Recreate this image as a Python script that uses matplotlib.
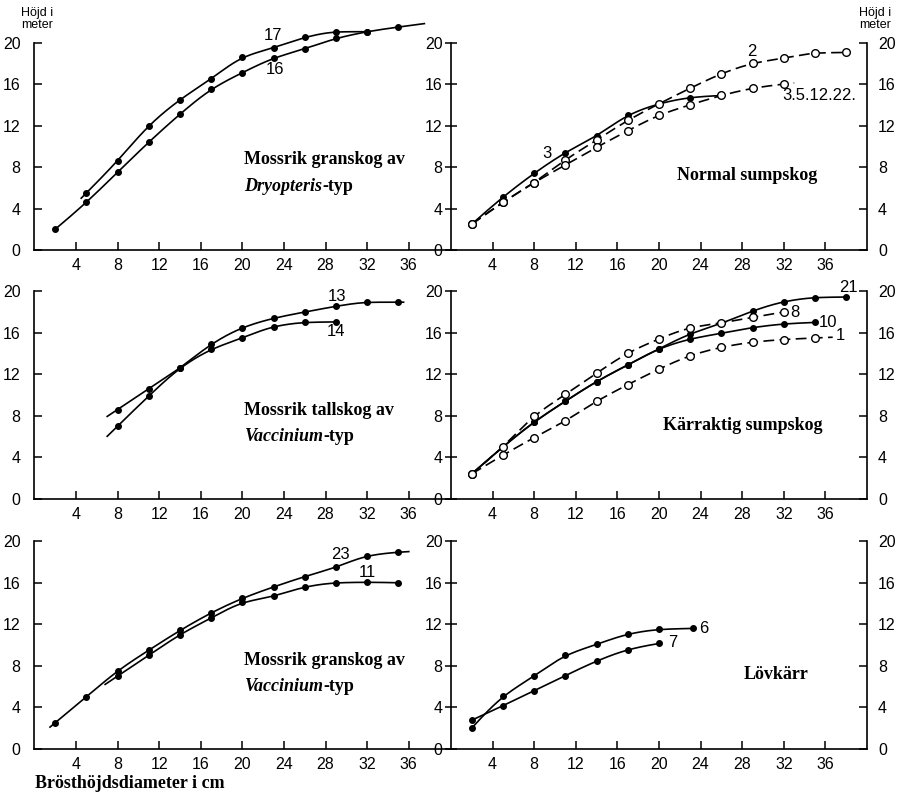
import numpy as np
import matplotlib
matplotlib.use("Agg")
import matplotlib.pyplot as plt
from matplotlib import transforms

# ---------------- data (diameter cm, height m) ----------------
x_ticks = [4, 8, 12, 16, 20, 24, 28, 32, 36]
y_ticks = [0, 4, 8, 12, 16, 20]

# Mossrik granskog av Dryopteris-typ
s17_x = [5, 8, 11, 14, 17, 20, 23, 26, 29, 32]
s17_y = [5.5, 8.6, 12.0, 14.5, 16.5, 18.6, 19.5, 20.5, 21.05, 21.05]
s17_span = (4.5, 32)
s16_x = [2, 5, 8, 11, 14, 17, 20, 23, 26, 29, 32, 35]
s16_y = [2.0, 4.6, 7.5, 10.4, 13.1, 15.5, 17.1, 18.5, 19.4, 20.4, 21.05, 21.5]
s16_span = (2, 37.5)

# Normal sumpskog
s3_x = [2, 5, 8, 11, 14, 17, 20, 23, 26]
s3_y = [2.5, 5.1, 7.4, 9.4, 11.0, 13.0, 14.1, 14.7, 14.9]
s3_span = (2, 26)
s2_x = [2, 5, 8, 11, 14, 17, 20, 23, 26, 29, 32, 35, 38]
s2_y = [2.5, 4.6, 6.5, 8.7, 10.6, 12.5, 14.1, 15.6, 17.0, 18.0, 18.5, 19.0, 19.05]
s2_span = (2, 38)
s35_x = [2, 5, 8, 11, 14, 17, 20, 23, 26, 29, 32]
s35_y = [2.5, 4.6, 6.5, 8.2, 9.9, 11.5, 13.0, 14.0, 14.9, 15.6, 16.0]
s35_span = (2, 33)

# Mossrik tallskog av Vaccinium-typ
s13_x = [8, 11, 14, 17, 20, 23, 26, 29, 32, 35]
s13_y = [8.6, 10.6, 12.6, 14.9, 16.5, 17.4, 18.0, 18.55, 18.95, 18.95]
s13_span = (7, 35.5)
s14_x = [8, 11, 14, 17, 20, 23, 26, 29]
s14_y = [7.0, 9.9, 12.6, 14.4, 15.5, 16.6, 17.0, 17.05]
s14_span = (7, 29)

# Kärraktig sumpskog
s21_x = [2, 5, 8, 11, 14, 17, 20, 23, 26, 29, 32, 35, 38]
s21_y = [2.4, 5.0, 7.4, 9.4, 11.3, 12.9, 14.45, 15.9, 16.9, 18.1, 19.0, 19.4, 19.45]
s21_span = (2, 38)
s10_x = [2, 5, 8, 11, 14, 17, 20, 23, 26, 29, 32, 35]
s10_y = [2.4, 5.0, 7.4, 9.4, 11.3, 12.9, 14.45, 15.4, 15.95, 16.5, 16.85, 17.0]
s10_span = (2, 35)
s8_x = [2, 5, 8, 11, 14, 17, 20, 23, 26, 29, 32]
s8_y = [2.4, 5.0, 8.0, 10.05, 12.1, 14.05, 15.4, 16.5, 16.95, 17.5, 18.0]
s8_span = (2, 32)
s1_x = [2, 5, 8, 11, 14, 17, 20, 23, 26, 29, 32, 35]
s1_y = [2.4, 4.2, 5.9, 7.5, 9.4, 11.0, 12.5, 13.8, 14.6, 15.1, 15.35, 15.5]
s1_span = (2, 36.7)

# Mossrik granskog av Vaccinium-typ
s23_x = [2, 5, 8, 11, 14, 17, 20, 23, 26, 29, 32, 35]
s23_y = [2.5, 5.0, 7.5, 9.5, 11.4, 13.1, 14.5, 15.6, 16.6, 17.5, 18.6, 18.95]
s23_span = (1.5, 36)
s11_x = [8, 11, 14, 17, 20, 23, 26, 29, 32, 35]
s11_y = [7.0, 9.0, 11.0, 12.6, 14.1, 14.7, 15.6, 16.0, 16.05, 16.0]
s11_span = (6.8, 35)

# Lövkärr
s6_x = [2, 5, 8, 11, 14, 17, 20, 23.3]
s6_y = [2.0, 5.05, 7.0, 9.0, 10.05, 11.05, 11.5, 11.6]
s6_span = (2, 23.3)
s7_x = [2, 5, 8, 11, 14, 17, 20]
s7_y = [2.75, 4.15, 5.6, 7.05, 8.45, 9.55, 10.15]
s7_span = (2, 20)

# ---------------- styling ----------------
SANS = "Liberation Sans"
SERIF = "Liberation Serif"
LW = 1.2
TICK_FS = 11.5

W, H = 900, 797
fig = plt.figure(figsize=(9, 7.97), dpi=100)

px = 10.4  # pixels per unit
YMAX = 22.5
row_base = [250, 498.7, 748.7]
left_x0, right_x0 = 34.4, 451


def make_axes(x0, base):
    ax = fig.add_axes([x0 / W, (H - base) / H, 40 * px / W, YMAX * 10.37 / H])
    ax.patch.set_visible(False)
    return ax


def style_common(ax):
    ax.set_xlim(0, 40)
    ax.set_ylim(0, YMAX)
    ax.set_xticks(x_ticks)
    ax.set_yticks(y_ticks)
    ax.spines["top"].set_visible(False)
    ax.spines["right"].set_visible(False)
    ax.spines["left"].set_bounds(0, 20)
    for s in ax.spines.values():
        s.set_linewidth(1.2)
    ax.tick_params(axis="x", direction="in", length=6, width=1.1, pad=6,
                   labelsize=TICK_FS)
    for lab in ax.get_xticklabels() + ax.get_yticklabels():
        lab.set_fontfamily(SANS)


def pchip(xs, ys, t):
    x = np.asarray(xs, float)
    y = np.asarray(ys, float)
    h = np.diff(x)
    d = np.diff(y) / h
    n = len(x)
    m = np.zeros(n)
    for k in range(1, n - 1):
        if d[k - 1] * d[k] <= 0:
            m[k] = 0.0
        else:
            w1 = 2 * h[k] + h[k - 1]
            w2 = h[k] + 2 * h[k - 1]
            m[k] = (w1 + w2) / (w1 / d[k - 1] + w2 / d[k])

    def endslope(h0, h1, d0, d1):
        s = ((2 * h0 + h1) * d0 - h0 * d1) / (h0 + h1)
        if np.sign(s) != np.sign(d0):
            s = 0.0
        return 0.5 * s + 0.5 * d0

    m[0] = endslope(h[0], h[1], d[0], d[1])
    m[-1] = endslope(h[-1], h[-2], d[-1], d[-2])
    out = np.empty_like(t)
    for i, tv in enumerate(t):
        if tv <= x[0]:
            out[i] = y[0] + m[0] * (tv - x[0])
        elif tv >= x[-1]:
            out[i] = y[-1] + m[-1] * (tv - x[-1])
        else:
            k = min(np.searchsorted(x, tv) - 1, n - 2)
            s = (tv - x[k]) / h[k]
            h00 = 2 * s**3 - 3 * s**2 + 1
            h10 = s**3 - 2 * s**2 + s
            h01 = -2 * s**3 + 3 * s**2
            h11 = s**3 - s**2
            out[i] = (h00 * y[k] + h10 * h[k] * m[k] + h01 * y[k + 1]
                      + h11 * h[k] * m[k + 1])
    return out


def smooth_curve(xs, ys, span, sigma=1.0):
    step = 0.05
    pad = 4 * sigma
    t = np.arange(span[0] - pad, span[1] + pad + step / 2, step)
    v = pchip(xs, ys, t)
    kx = np.arange(-pad, pad + step / 2, step)
    k = np.exp(-0.5 * (kx / sigma) ** 2)
    k /= k.sum()
    vs = np.convolve(v, k, mode="same")
    sel = (t >= span[0] - 1e-9) & (t <= span[1] + 1e-9)
    return t[sel], vs[sel]


def draw(ax, xs, ys, span, dashed=False, open_marker=False):
    t, v = smooth_curve(xs, ys, span)
    if dashed:
        ax.plot(t, v, color="black", lw=LW, dashes=(6.5, 3.2), zorder=2)
    else:
        ax.plot(t, v, color="black", lw=LW, zorder=2)
    if open_marker:
        ax.plot(xs, ys, "o", ms=5.5, mfc="white", mec="black", mew=1.0, zorder=4)
    else:
        ax.plot(xs, ys, "o", ms=4.0, color="black", zorder=3)


def lbl(ax, x, y, s, ha="center"):
    ax.text(x, y, s, fontsize=12, family=SANS, ha=ha, va="center")


renderer = fig.canvas.get_renderer()


def title(ax, x, y, parts):
    t = ax.transData
    for txt, it in parts:
        tx = ax.text(x, y, txt, fontsize=13, family=SERIF, fontweight="bold",
                     style="italic" if it else "normal", ha="left", va="center",
                     transform=t)
        ex = tx.get_window_extent(renderer)
        t = transforms.offset_copy(tx.get_transform(), fig=fig, x=ex.width,
                                   units="dots")


axes = []
for r in range(3):
    axl = make_axes(left_x0, row_base[r])
    axr = make_axes(right_x0, row_base[r])
    style_common(axl)
    style_common(axr)
    axl.tick_params(axis="y", direction="in", length=6, width=1.1, pad=10,
                    labelsize=TICK_FS)
    axr.tick_params(axis="y", direction="inout", length=8, width=1.1, pad=2,
                    labelsize=TICK_FS)
    tw = axr.twinx()
    tw.patch.set_visible(False)
    tw.set_ylim(0, YMAX)
    tw.set_yticks(y_ticks)
    for k in ["top", "left", "bottom"]:
        tw.spines[k].set_visible(False)
    tw.spines["right"].set_bounds(0, 20)
    tw.spines["right"].set_linewidth(1.2)
    tw.tick_params(axis="y", direction="in", length=6, width=1.1, pad=8,
                   labelsize=TICK_FS)
    for lab in tw.get_yticklabels():
        lab.set_fontfamily(SANS)
    axes.append((axl, axr))

# Row 1
a, b = axes[0]
draw(a, s17_x, s17_y, s17_span)
draw(a, s16_x, s16_y, s16_span)
lbl(a, 22.9, 20.7, "17")
lbl(a, 23.1, 17.4, "16")
title(a, 20.2, 8.7, [("Mossrik granskog av", False)])
title(a, 20.2, 6.1, [("Dryopteris", True), ("-typ", False)])

draw(b, s2_x, s2_y, s2_span, dashed=True, open_marker=True)
draw(b, s35_x, s35_y, s35_span, dashed=True, open_marker=True)
draw(b, s3_x, s3_y, s3_span)
lbl(b, 28.9, 19.1, "2")
lbl(b, 31.9, 14.9, "3.5.12.22.", ha="left")
lbl(b, 9.2, 9.3, "3")
title(b, 21.7, 7.2, [("Normal sumpskog", False)])

# Row 2
a, b = axes[1]
draw(a, s13_x, s13_y, s13_span)
draw(a, s14_x, s14_y, s14_span)
lbl(a, 29.1, 19.5, "13")
lbl(a, 29.0, 16.1, "14")
title(a, 20.2, 8.55, [("Mossrik tallskog av", False)])
title(a, 20.2, 5.95, [("Vaccinium", True), ("-typ", False)])

draw(b, s21_x, s21_y, s21_span)
draw(b, s10_x, s10_y, s10_span)
draw(b, s8_x, s8_y, s8_span, dashed=True, open_marker=True)
draw(b, s1_x, s1_y, s1_span, dashed=True, open_marker=True)
lbl(b, 38.2, 20.4, "21")
lbl(b, 32.6, 18.0, "8", ha="left")
lbl(b, 35.4, 17.0, "10", ha="left")
lbl(b, 37.0, 15.7, "1", ha="left")
title(b, 20.4, 7.1, [("Kärraktig sumpskog", False)])

# Row 3
a, b = axes[2]
draw(a, s23_x, s23_y, s23_span)
draw(a, s11_x, s11_y, s11_span)
lbl(a, 29.4, 18.7, "23")
lbl(a, 32.0, 17.0, "11")
title(a, 20.2, 8.55, [("Mossrik granskog av", False)])
title(a, 20.2, 5.95, [("Vaccinium", True), ("-typ", False)])

draw(b, s6_x, s6_y, s6_span)
draw(b, s7_x, s7_y, s7_span)
lbl(b, 23.9, 11.6, "6", ha="left")
lbl(b, 20.9, 10.2, "7", ha="left")
title(b, 28.1, 7.2, [("Lövkärr", False)])

# figure texts
fig.text(37 / W, 1 - 19 / H, "Höjd i\nmeter", family=SANS, fontsize=9,
         ha="center", va="center", linespacing=0.9)
fig.text(875 / W, 1 - 19 / H, "Höjd i\nmeter", family=SANS, fontsize=9,
         ha="center", va="center", linespacing=0.9)
fig.text(35 / W, 1 - 783 / H, "Brösthöjdsdiameter i cm", family=SERIF,
         fontweight="bold", fontsize=13, ha="left", va="center")

fig.savefig("out.png", dpi=100)
